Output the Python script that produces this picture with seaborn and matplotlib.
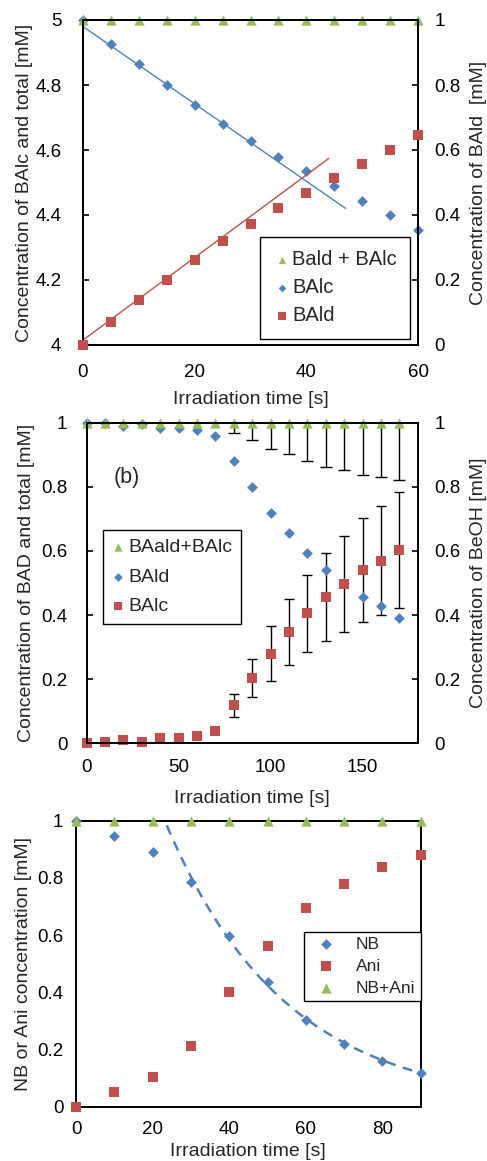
import numpy as np
import pandas as pd
import matplotlib
matplotlib.use("Agg")
import matplotlib.pyplot as plt
import seaborn as sns

# ---------------- data ----------------
# Panel (a)
t1 = [0, 5, 10, 15, 20, 25, 30, 35, 40, 45, 50, 55, 60]
total1 = [5.0] * 13
balc1 = [5.0, 4.926, 4.864, 4.801, 4.738, 4.680, 4.628, 4.579, 4.535, 4.489, 4.444, 4.400, 4.354]
bald1 = [0.0, 0.072, 0.138, 0.200, 0.262, 0.320, 0.372, 0.420, 0.467, 0.513, 0.557, 0.599, 0.647]
balc_fit = (-0.0119, 4.98)      # slope, intercept
balc_fit_range = (0, 47)
bald_fit = (0.0127, 0.015)
bald_fit_range = (0, 44)

# Panel (b)
t2 = [0, 10, 20, 30, 40, 50, 60, 70, 80, 90, 100, 110, 120, 130, 140, 150, 160, 170]
total2 = [1.0] * 18
bald2 = [1.0, 1.0, 0.99, 0.995, 0.985, 0.983, 0.977, 0.958, 0.879, 0.798, 0.719, 0.656,
         0.595, 0.542, 0.50, 0.457, 0.427, 0.392]
balc2 = [0.0, 0.004, 0.010, 0.005, 0.016, 0.016, 0.023, 0.039, 0.118, 0.203, 0.280, 0.346,
         0.405, 0.457, 0.496, 0.540, 0.570, 0.603]
err_t2 = [80, 90, 100, 110, 120, 130, 140, 150, 160, 170]
total_err2 = [0.033, 0.055, 0.082, 0.098, 0.118, 0.138, 0.147, 0.163, 0.169, 0.178]
balc_err2 = [0.037, 0.060, 0.085, 0.103, 0.120, 0.137, 0.150, 0.163, 0.171, 0.182]

# Panel (c)
t3 = [0, 10, 20, 30, 40, 50, 60, 70, 80, 90]
nb3 = [1.0, 0.947, 0.892, 0.785, 0.598, 0.435, 0.302, 0.220, 0.160, 0.117]
ani3 = [0.0, 0.050, 0.105, 0.212, 0.400, 0.563, 0.694, 0.779, 0.839, 0.880]
sum3 = [1.0] * 10
nb_fit = (2.10, 0.032)  # A, k  of  A*exp(-k t)

BLUE = "#4F81BD"
RED = "#C0504D"
GREEN = "#9BBB59"

sns.set_theme(style="white")
plt.rcParams["font.family"] = ["Liberation Sans", "DejaVu Sans"]
plt.rcParams["axes.edgecolor"] = "black"
plt.rcParams["axes.linewidth"] = 1.4

TICK_FS = 13.5
LAB_FS = 14
S_TRI, S_DIA, S_SQ = 55, 30, 58

fig = plt.figure(figsize=(4.87, 11.61), dpi=100)
W, H = 487.0, 1161.0


def make_axes(left, right, top, bottom):
    return fig.add_axes([left / W, 1 - bottom / H, (right - left) / W, (bottom - top) / H])


def fmt(v):
    return "%g" % v


def style_ticks(ax, axis, pad):
    ax.tick_params(axis=axis, direction="in", length=4, width=1.2, colors="black",
                   labelsize=TICK_FS, pad=pad)


# ---------------- Panel (a) ----------------
ax1 = make_axes(83, 418, 20, 345)
ax1r = ax1.twinx()
ax1.set_xlim(0, 60)
ax1.set_ylim(4, 5)
ax1r.set_ylim(0, 1)

xs = np.linspace(*balc_fit_range, 2)
sns.lineplot(x=xs, y=balc_fit[1] + balc_fit[0] * xs, ax=ax1, color=BLUE, lw=1.0)
xs = np.linspace(*bald_fit_range, 2)
sns.lineplot(x=xs, y=bald_fit[1] + bald_fit[0] * xs, ax=ax1r, color=RED, lw=1.0)

sns.scatterplot(x=t1, y=total1, ax=ax1, marker="^", s=S_TRI, color=GREEN, linewidth=0,
                clip_on=False, zorder=4)
h_tot1 = ax1.collections[-1]
sns.scatterplot(x=t1, y=balc1, ax=ax1, marker="D", s=S_DIA, color=BLUE, linewidth=0,
                clip_on=False, zorder=3)
h_balc1 = ax1.collections[-1]
sns.scatterplot(x=t1, y=bald1, ax=ax1r, marker="s", s=S_SQ, color=RED, linewidth=0,
                clip_on=False, zorder=3)
h_bald1 = ax1r.collections[-1]

yt = [4, 4.2, 4.4, 4.6, 4.8, 5]
ax1.set_yticks(yt, [fmt(v) for v in yt])
yt = [0, 0.2, 0.4, 0.6, 0.8, 1]
ax1r.set_yticks(yt, [fmt(v) for v in yt])
xt = [0, 20, 40, 60]
ax1.set_xticks(xt, [fmt(v) for v in xt])
style_ticks(ax1, "x", 13.5)
style_ticks(ax1, "y", 15.5)
style_ticks(ax1r, "y", 12)
ax1.set_xlabel("Irradiation time [s]", fontsize=LAB_FS)
ax1.set_ylabel("Concentration of BAlc and total [mM]", fontsize=LAB_FS)
ax1r.set_ylabel("Concentration of BAld  [mM]", fontsize=LAB_FS)
ax1.xaxis.set_label_coords(0.5, -0.142)
ax1.yaxis.set_label_coords(-0.15, 0.5)
ax1r.yaxis.set_label_coords(1.155, 0.5)
leg = ax1r.legend([h_tot1, h_balc1, h_bald1], ["Bald + BAlc", "BAlc", "BAld"],
                  loc="lower right", bbox_to_anchor=(0.976, 0.02), borderaxespad=0,
                  fontsize=14.5, fancybox=False, framealpha=1, edgecolor="black",
                  markerscale=0.7, handlelength=0.9, handletextpad=0.05,
                  labelspacing=0.45, borderpad=0.65)
leg.get_frame().set_linewidth(1.0)

# ---------------- Panel (b) ----------------
ax2 = make_axes(86.7, 417.8, 422.7, 743.3)
ax2r = ax2.twinx()
ax2.set_xlim(0, 180)
ax2.set_ylim(0, 1)
ax2r.set_ylim(0, 1)

tot_at_err = [total2[t2.index(v)] for v in err_t2]
balc_at_err = [balc2[t2.index(v)] for v in err_t2]
ax2.errorbar(err_t2, tot_at_err, yerr=total_err2, fmt="none", ecolor="black",
             elinewidth=1.0, capsize=4, capthick=1.0, zorder=2)
ax2.errorbar(err_t2, balc_at_err, yerr=balc_err2, fmt="none", ecolor="black",
             elinewidth=1.0, capsize=3.5, capthick=1.0, zorder=2)

sns.scatterplot(x=t2, y=bald2, ax=ax2, marker="D", s=S_DIA, color=BLUE, linewidth=0,
                clip_on=False, zorder=3)
h_bald2 = ax2.collections[-1]
sns.scatterplot(x=t2, y=total2, ax=ax2, marker="^", s=S_TRI, color=GREEN, linewidth=0,
                clip_on=False, zorder=4)
h_tot2 = ax2.collections[-1]
sns.scatterplot(x=t2, y=balc2, ax=ax2, marker="s", s=S_SQ, color=RED, linewidth=0,
                clip_on=False, zorder=3)
h_balc2 = ax2.collections[-1]

yt = [0, 0.2, 0.4, 0.6, 0.8, 1]
ax2.set_yticks(yt, [fmt(v) for v in yt])
ax2r.set_yticks(yt, [fmt(v) for v in yt])
xt = [0, 50, 100, 150]
ax2.set_xticks(xt, [fmt(v) for v in xt])
style_ticks(ax2, "x", 11.5)
style_ticks(ax2, "y", 14)
style_ticks(ax2r, "y", 12)
ax2.set_xlabel("Irradiation time [s]", fontsize=LAB_FS)
ax2.set_ylabel("Concentration of BAD and total [mM]", fontsize=LAB_FS)
ax2r.set_ylabel("Concentration of BeOH [mM]", fontsize=LAB_FS)
ax2.xaxis.set_label_coords(0.5, -0.145)
ax2.yaxis.set_label_coords(-0.157, 0.5)
ax2r.yaxis.set_label_coords(1.158, 0.5)
ax2.text(0.08, 0.83, "(b)", transform=ax2.transAxes, fontsize=15.5,
         ha="left", va="center")
leg = ax2r.legend([h_tot2, h_bald2, h_balc2], ["BAald+BAlc", "BAld", "BAlc"],
                  loc="upper left", bbox_to_anchor=(0.049, 0.665), borderaxespad=0,
                  fontsize=LAB_FS, fancybox=False, framealpha=1, edgecolor="black",
                  markerscale=0.8, handlelength=0.7, handletextpad=0.15,
                  labelspacing=0.6, borderpad=0.45)
leg.get_frame().set_linewidth(1.0)

# ---------------- Panel (c) ----------------
ax3 = make_axes(76, 420.7, 820.7, 1106.7)
ax3.set_xlim(0, 90)
ax3.set_ylim(0, 1)
xs = np.linspace(0, 90, 300)
sns.lineplot(x=xs, y=nb_fit[0] * np.exp(-nb_fit[1] * xs), ax=ax3, color=BLUE, lw=1.8,
             linestyle=(0, (4, 3)))
sns.scatterplot(x=t3, y=nb3, ax=ax3, marker="D", s=S_DIA, color=BLUE, linewidth=0,
                clip_on=False, zorder=3)
h_nb = ax3.collections[-1]
sns.scatterplot(x=t3, y=ani3, ax=ax3, marker="s", s=S_SQ, color=RED, linewidth=0,
                clip_on=False, zorder=3)
h_ani = ax3.collections[-1]
sns.scatterplot(x=t3, y=sum3, ax=ax3, marker="^", s=S_TRI, color=GREEN, linewidth=0,
                clip_on=False, zorder=4)
h_sum = ax3.collections[-1]
yt = [0, 0.2, 0.4, 0.6, 0.8, 1]
ax3.set_yticks(yt, [fmt(v) for v in yt])
xt = [0, 20, 40, 60, 80]
ax3.set_xticks(xt, [fmt(v) for v in xt])
style_ticks(ax3, "x", 10.5)
style_ticks(ax3, "y", 9)
ax3.set_xlabel("Irradiation time [s]", fontsize=LAB_FS)
ax3.set_ylabel("NB or Ani concentration [mM]", fontsize=LAB_FS)
ax3.xaxis.set_label_coords(0.5, -0.128)
ax3.yaxis.set_label_coords(-0.128, 0.5)
leg = ax3.legend([h_nb, h_ani, h_sum], ["NB", "Ani", "NB+Ani"],
                 loc="upper right", bbox_to_anchor=(1.0, 0.612), borderaxespad=0,
                 fontsize=12.5, fancybox=False, framealpha=1, edgecolor="black",
                 markerscale=1.0, handlelength=2.0, handletextpad=0.7,
                 labelspacing=0.38, borderpad=0.3)
leg.get_frame().set_linewidth(1.0)

for ax in (ax1, ax1r, ax2, ax2r, ax3):
    for s in ax.spines.values():
        s.set_visible(True)
        s.set_color("black")
        s.set_linewidth(1.4)

fig.savefig("out.png", dpi=100)
